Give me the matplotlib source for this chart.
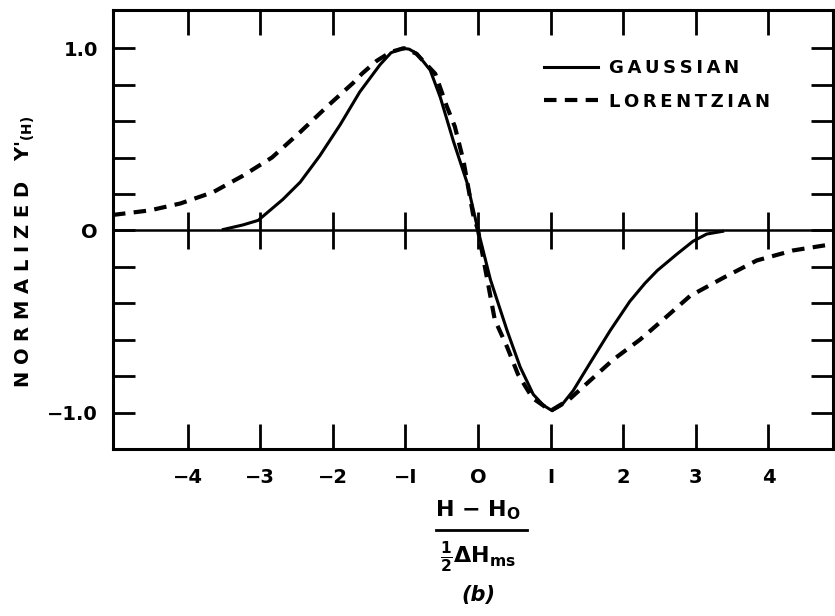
import numpy as np
import matplotlib
matplotlib.use("Agg")
import matplotlib.pyplot as plt
from matplotlib.lines import Line2D

# curves
gauss_x = [-3.51, -3.24, -3.03, -2.69, -2.45, -2.31, -2.18, -1.90, -1.63, -1.35, -1.20, -1.05,
           -0.95, -0.84, -0.66, -0.52, -0.34, -0.15, 0.0, 0.17, 0.40, 0.58, 0.76, 0.90, 1.02,
           1.15, 1.31, 1.54, 1.82, 2.09, 2.30, 2.47, 2.74, 2.96, 3.15, 3.37]
gauss_y = [0.005, 0.03, 0.055, 0.17, 0.265, 0.34, 0.41, 0.58, 0.76, 0.91, 0.975, 1.0,
           0.995, 0.97, 0.88, 0.73, 0.49, 0.26, 0.0, -0.27, -0.55, -0.75, -0.90, -0.96, -0.99,
           -0.96, -0.88, -0.73, -0.55, -0.39, -0.29, -0.22, -0.13, -0.06, -0.02, -0.005]

lor_x = [-5.03, -4.52, -4.10, -3.65, -3.24, -2.84, -2.45, -2.08, -1.72, -1.60, -1.40, -1.20,
         -1.02, -0.85, -0.59, -0.43, -0.32, -0.20, -0.07, 0.0, 0.23, 0.40, 0.55, 0.75, 1.0,
         1.25, 1.50, 1.86, 2.23, 2.55, 2.92, 3.38, 3.84, 4.34, 4.81, 4.92]
lor_y = [0.085, 0.11, 0.148, 0.21, 0.30, 0.40, 0.54, 0.68, 0.81, 0.86, 0.93, 0.98,
         1.0, 0.97, 0.86, 0.68, 0.57, 0.38, 0.09, 0.0, -0.49, -0.64, -0.79, -0.92, -0.99,
         -0.93, -0.84, -0.71, -0.60, -0.49, -0.36, -0.26, -0.165, -0.11, -0.08, -0.075]

x_ticks = [-4, -3, -2, -1, 0, 1, 2, 3, 4]
x_labels = ["\u22124", "\u22123", "\u22122", "\u2212I", "O", "I", "2", "3", "4"]
y_ticks = [-1.0, -0.8, -0.6, -0.4, -0.2, 0.0, 0.2, 0.4, 0.6, 0.8, 1.0]
y_labels = ["\u22121.0", "", "", "", "", "O", "", "", "", "", "1.0"]

plt.rcParams['font.family'] = ['DejaVu Sans']
plt.rcParams['font.weight'] = 'bold'
plt.rcParams['mathtext.default'] = 'regular'

fig = plt.figure(figsize=(8.35, 6.16), dpi=100)
ax = fig.add_axes([0.1353, 0.2711, 0.8623, 0.7127])

ts = "\u2009"
ax.plot(gauss_x, gauss_y, color="black", lw=2.2, label=ts.join("GAUSSIAN"))
ax.plot(lor_x, lor_y, color="black", lw=3, dashes=(3, 2), label=ts.join("LORENTZIAN"))

ax.axhline(0, color="black", lw=1.8)
ax.vlines(x_ticks, -0.1, 0.1, color="black", lw=2)

ax.set_xlim(-5.03, 4.89)
ax.set_ylim(-1.2, 1.21)

ax.set_xticks(x_ticks)
ax.set_xticklabels(x_labels, fontsize=14)
ax.set_yticks(y_ticks)
ax.set_yticklabels(y_labels, fontsize=14)
ax.tick_params(axis="x", direction="in", length=18, width=2, top=True, bottom=True, pad=14)
ax.tick_params(axis="y", direction="in", length=16, width=2, left=True, right=True, pad=11)
for s in ax.spines.values():
    s.set_linewidth(2.2)

ax.set_ylabel(" ".join("NORMALIZED") + "   Y$'_{(H)}$", fontsize=14, fontweight="bold")
ax.yaxis.set_label_coords(-0.105, 0.45)

leg = ax.legend(loc="upper right", bbox_to_anchor=(0.935, 0.925), frameon=False,
                fontsize=13, handlelength=3.0, handletextpad=0.6, labelspacing=0.85)

# x axis label as a fraction
fig.text(478 / 835, 1 - 510 / 616, "H \u2212 H$_O$", ha="center", va="center", fontsize=16)
fig.add_artist(Line2D([436 / 835, 527 / 835], [1 - 530 / 616, 1 - 530 / 616], color="black", lw=2))
fig.text(478 / 835, 1 - 557 / 616, "$\\frac{1}{2}$\u0394H$_{ms}$", ha="center", va="center", fontsize=16)
fig.text(478 / 835, 1 - 595 / 616, "(b)", ha="center", va="center", fontsize=15, style="italic")

fig.savefig("out.png", dpi=100)
